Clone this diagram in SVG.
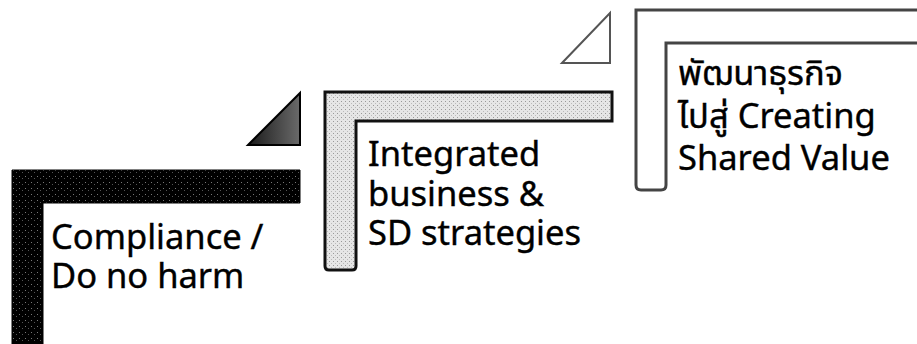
<svg xmlns="http://www.w3.org/2000/svg" width="917" height="344" viewBox="0 0 917 344">
<style>
.t{font-family:"Noto Sans","Open Sans","Noto Sans Thai","DejaVu Sans",sans-serif;font-size:34.5px;fill:#000;stroke:#000;stroke-width:0.4}
</style>
<defs>
<pattern id="speck" width="6" height="6" patternUnits="userSpaceOnUse">
<rect width="6" height="6" fill="#000"/>
<rect x="1" y="2" width="1" height="1" fill="#777"/>
<rect x="4" y="4" width="1" height="1" fill="#555"/>
</pattern>
<pattern id="gray" width="4" height="4" patternUnits="userSpaceOnUse">
<rect width="4" height="4" fill="#e6e6e6"/>
<rect x="1" y="1" width="1" height="1" fill="#999"/>
<rect x="3" y="3" width="1" height="1" fill="#bbb"/>
</pattern>
<linearGradient id="tri" x1="0" y1="0" x2="1" y2="0">
<stop offset="0" stop-color="#1a1a1a"/>
<stop offset="1" stop-color="#6a6a6a"/>
</linearGradient>
</defs>
<g id="step1">
<path d="M12,170 H300 V203 H43 V344 H12 Z" fill="url(#speck)" stroke="#000" stroke-width="1"/>
<text class="t" x="51" y="249">Compliance /</text>
<text class="t" x="51" y="288">Do no harm</text>
</g>
<g id="step2">
<path d="M325,92 H612 V121 H356 V266 Q356,270 352,270 H329 Q325,270 325,266 Z" fill="url(#gray)" stroke="#111" stroke-width="3"/>
<text class="t" x="368" y="166">Integrated</text>
<text class="t" x="368" y="206">business &amp;</text>
<text class="t" x="368" y="245">SD strategies</text>
</g>
<g id="step3">
<path d="M636,10 H919 V43 H666 V185 Q666,190 661,190 H641 Q636,190 636,185 Z" fill="#fff" stroke="#444" stroke-width="3"/>
<text class="t" x="678" y="85">พัฒนาธุรกิจ</text>
<text class="t" x="678" y="128">ไปสู่ Creating</text>
<text class="t" x="678" y="170">Shared Value</text>
</g>
<g id="arrow1">
<path d="M248,145 L300,93 V145 Z" fill="url(#tri)" stroke="#000" stroke-width="2"/>
</g>
<g id="arrow2">
<path d="M562,63 L610,13 V63 Z" fill="#fff" stroke="#555" stroke-width="2"/>
</g>
</svg>
